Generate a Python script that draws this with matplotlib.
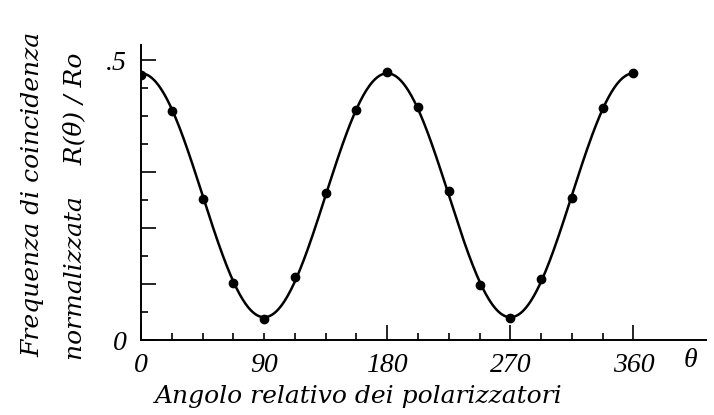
import numpy as np
import matplotlib.pyplot as plt

# coincidence rate vs. relative polarizer angle
angles = [0, 22.5, 45, 67.5, 90, 112.5, 135, 157.5, 180,
          202.5, 225, 247.5, 270, 292.5, 315, 337.5, 360]
rates = [0.473, 0.409, 0.252, 0.102, 0.038, 0.112, 0.262, 0.411, 0.478,
         0.417, 0.267, 0.099, 0.040, 0.109, 0.253, 0.414, 0.477]

x_major = [0, 180, 270, 360]
x_minor = [22.5, 45, 67.5, 90, 112.5, 135, 157.5, 202.5, 225, 247.5, 292.5, 315, 337.5]
y_major = [0, 0.1, 0.2, 0.3, 0.5]
y_major_labels = ['0', '', '', '', '.5']
y_minor = [0.05, 0.15, 0.25, 0.35, 0.4, 0.45]

# least squares fit R = a + b cos(2 theta) through the measured points
th = np.radians(angles)
design = np.column_stack([np.ones_like(th), np.cos(2 * th)])
coef, *_ = np.linalg.lstsq(design, np.array(rates), rcond=None)
theta_fine = np.linspace(0, 360, 500)
fit = coef[0] + coef[1] * np.cos(2 * np.radians(theta_fine))

plt.rcParams['font.family'] = ['Liberation Serif', 'DejaVu Serif']
plt.rcParams['font.style'] = 'italic'
label_font = dict(family='DejaVu Serif', style='italic', fontsize=18)

fig = plt.figure(figsize=(7.14, 4.15), dpi=100)
ax = fig.add_axes([141 / 714, 75 / 415, 565 / 714, 295 / 415])

ax.plot(theta_fine, fit, color='black', lw=1.8)
ax.plot(angles, rates, 'o', color='black', ms=6)

ax.set_xlim(0, 413)
ax.set_ylim(0, 0.527)

for s in ['top', 'right']:
    ax.spines[s].set_visible(False)
for s in ['left', 'bottom']:
    ax.spines[s].set_linewidth(1.4)

ax.set_xticks(x_major, labels=['0', '180', '270', '360'])
ax.set_xticks(x_minor, labels=['90' if v == 90 else '' for v in x_minor], minor=True)
ax.set_yticks(y_major, labels=y_major_labels)
ax.set_yticks(y_minor, minor=True)

ax.tick_params(which='both', direction='in', width=1.2, labelsize=20, pad=9)
ax.tick_params(which='major', length=11)
ax.tick_params(which='minor', length=5)
ax.tick_params(axis='y', pad=10)

fig.text(690 / 714, 1 - 360 / 415, 'θ', fontsize=20, ha='center', va='center')
fig.text(155 / 714, 1 - 403 / 415, 'Angolo relativo dei polarizzatori',
         ha='left', va='baseline', **label_font)
fig.text(33 / 714, 1 - 357 / 415, 'Frequenza di coincidenza',
         rotation=90, ha='center', va='bottom', **label_font)
fig.text(75 / 714, 1 - 360 / 415, 'normalizzata    R(θ) / Ro',
         rotation=90, ha='center', va='bottom', **label_font)

fig.savefig('out.png', dpi=100)
